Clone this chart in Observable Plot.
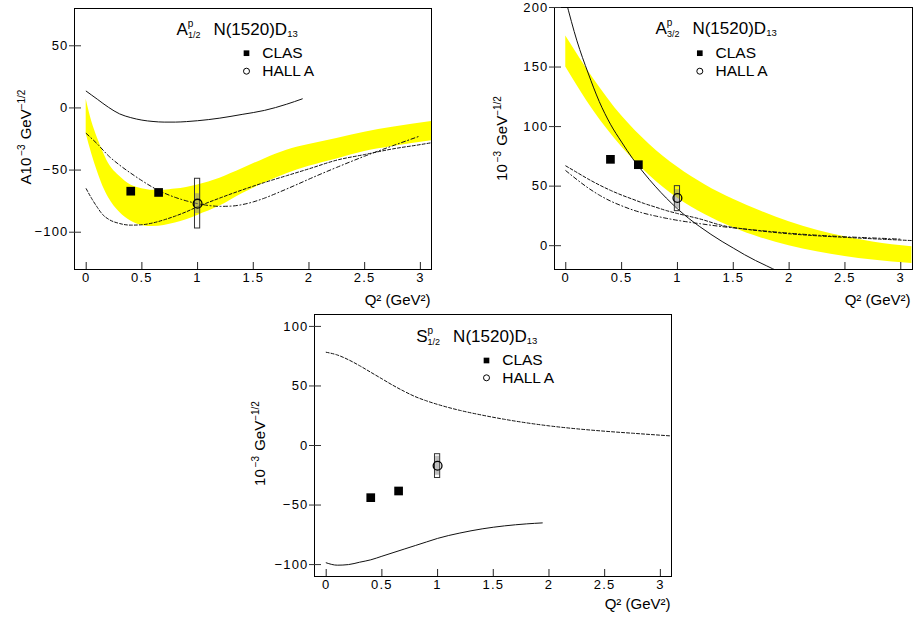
<!DOCTYPE html>
<html><head><meta charset="utf-8">
<script src="https://cdn.jsdelivr.net/npm/d3@7"></script>
<script src="https://cdn.jsdelivr.net/npm/@observablehq/plot@0.6"></script>
<style>
body{margin:0;background:#fff;}
#wrap{position:relative;width:914px;height:621px;font-family:"Liberation Sans",Arial,sans-serif;}
#wrap > div{position:absolute;}
</style></head><body>
<div id="wrap"><div id="p1"></div><div id="p2"></div><div id="p3"></div></div>
<script>
// ---------- ticks ----------
const xTicks = [0, 0.5, 1, 1.5, 2, 2.5, 3];
const yTicksA12 = [-100, -50, 0, 50];
const yTicksA32 = [0, 50, 100, 150, 200];
const yTicksS12 = [-100, -50, 0, 50, 100];

// ---------- data points ----------
const clasQ2 = [0.4, 0.65];
const clasA12 = [-67, -68];
const clasA32 = [72.5, 68];
const clasS12 = [-43.8, -38.2];
const hallQ2 = [1.0];
const hallA12 = [-77], hallA12SysLo = [-97], hallA12SysHi = [-57], hallA12StatLo = [-85], hallA12StatHi = [-69];
const hallA32 = [40], hallA32SysLo = [29], hallA32SysHi = [50], hallA32StatLo = [31], hallA32StatHi = [47];
const hallS12 = [-17], hallS12SysLo = [-27.3], hallS12SysHi = [-7.3], hallS12StatLo = [-25], hallS12StatHi = [-9];

// ---------- A1/2 curves ----------
const bandA12Q = [0, 0.05, 0.1, 0.15, 0.2, 0.3, 0.4, 0.5, 0.6, 0.7, 0.8, 0.9, 1.0, 1.2, 1.4, 1.6, 1.8, 2.0, 2.25, 2.5, 2.75, 3.1];
const bandA12Hi = [7, -11, -24, -35, -44.5, -55, -62, -65, -66.2, -66.2, -65.3, -64, -62, -56.5, -49, -41, -34, -29.5, -24.5, -19.5, -15.5, -11];
const bandA12Lo = [-21, -37, -51, -63, -72, -84, -91, -94.5, -95.5, -94.5, -92.5, -90, -86.5, -79, -69, -60.5, -53, -47, -41, -35, -31, -26.5];
const solidA12Q = [0, 0.1, 0.2, 0.3, 0.4, 0.5, 0.6, 0.7, 0.8, 0.9, 1.0, 1.2, 1.4, 1.6, 1.7, 1.8, 1.94];
const solidA12 = [13.5, 7, 0.5, -4.8, -7.8, -9.8, -10.9, -11.4, -11.4, -11, -10.3, -8.2, -5.2, -2, 0.3, 3, 7.3];
const dashA12Q = [0, 0.05, 0.1, 0.15, 0.2, 0.3, 0.4, 0.5, 0.6, 0.7, 0.8, 0.9, 1.0, 1.2, 1.4, 1.6, 1.8, 2.0, 2.25, 2.5, 2.75, 3.0, 3.1];
const dashA12 = [-65, -73, -80, -86, -89.5, -93, -94.3, -94, -92.5, -90, -87, -83.5, -79.5, -72.5, -66, -60, -54.5, -49, -42, -37.5, -33, -29.5, -28];
const dotdashA12Q = [0, 0.1, 0.2, 0.3, 0.4, 0.5, 0.6, 0.7, 0.8, 0.9, 1.0, 1.1, 1.2, 1.3, 1.4, 1.5, 1.6, 1.7, 1.8, 1.9, 2.0, 2.25, 2.5, 2.75, 3.0];
const dotdashA12 = [-20.5, -29, -38.5, -46, -52.5, -58.5, -64, -68.5, -72, -74.8, -77, -78.5, -79.2, -79, -77.8, -75.6, -72.6, -69, -65.2, -61.3, -57.3, -47.8, -38.8, -30.5, -22.5];

// ---------- A3/2 curves ----------
const bandA32Q = [0, 0.25, 0.5, 0.75, 1.0, 1.25, 1.5, 1.75, 2.0, 2.25, 2.5, 2.75, 3.1];
const bandA32Hi = [176, 140, 109, 85, 66, 51, 39, 29, 20, 13, 7.5, 3, -1];
const bandA32Lo = [150, 113, 83, 59, 40, 26, 15, 6.5, 0, -5, -9, -12, -15];
const solidA32Q = [0, 0.1, 0.2, 0.3, 0.4, 0.5, 0.6, 0.7, 0.8, 0.9, 1.0, 1.1, 1.2, 1.3, 1.4, 1.5, 1.6, 1.7, 1.8, 1.9];
const solidA32 = [206, 172, 145, 121, 102, 87, 73, 61, 50, 40, 31, 23, 16, 9.5, 3.5, -2, -7.5, -12.5, -17, -21.5];
const dashA32Q = [0, 0.1, 0.2, 0.3, 0.4, 0.5, 0.6, 0.7, 0.8, 0.9, 1.0, 1.2, 1.4, 1.6, 1.8, 2.0, 2.25, 2.5, 2.75, 3.1];
const dashA32 = [67, 61.5, 56, 51, 46.5, 42.5, 39, 35.5, 32.5, 29.5, 27, 22.5, 17, 14, 11.8, 10, 8.3, 7, 5.8, 4.3];
const dotdashA32Q = [0, 0.1, 0.2, 0.3, 0.4, 0.5, 0.6, 0.7, 0.8, 0.9, 1.0, 1.2, 1.4, 1.6, 1.8, 2.0, 2.25, 2.5, 2.75, 3.0];
const dotdashA32 = [63, 55.5, 48.5, 42.5, 37.5, 33.5, 30, 27.2, 25, 23, 21.3, 18.5, 16, 14, 12.2, 10.5, 8.8, 7.5, 6.5, 5.5];

// ---------- S1/2 curves ----------
const solidS12Q = [0, 0.1, 0.2, 0.3, 0.4, 0.5, 0.6, 0.7, 0.8, 0.9, 1.0, 1.2, 1.4, 1.6, 1.8, 1.94];
const solidS12 = [-98.5, -100.5, -100, -98, -96, -93, -90, -87, -84, -81, -78, -73.5, -70, -67.5, -65.8, -65];
const dashS12Q = [0, 0.1, 0.2, 0.3, 0.4, 0.5, 0.6, 0.7, 0.8, 0.9, 1.0, 1.2, 1.4, 1.6, 1.8, 2.0, 2.25, 2.5, 2.75, 3.1];
const dashS12 = [78.3, 76, 72, 67, 61.5, 56, 50.5, 45.5, 41, 37.5, 34.5, 29.5, 25.5, 22, 19, 16.5, 14, 12, 10.3, 8];

// ---------- texts ----------
const xLabel = "Q² (GeV²)";
const legendClas = "CLAS";
const legendHall = "HALL A";

const fmtX = d => String(d);
const fmtY = d => d < 0 ? "\u2212" + Math.abs(d) : String(d);
const pts = (q, v) => q.map((x, i) => ({x, y: v[i]}));

function rich(svg, plain, parts) {
  const t = d3.select(svg).selectAll("text").filter(function () { return this.textContent === plain; });
  if (t.empty()) return;
  t.selectAll("*").remove();
  t.text(null);
  let cur = 0;
  for (const p of parts) {
    const off = p.off || 0;
    const ts = t.append("tspan").text(p.t).attr("dy", off - cur);
    if (p.size) ts.attr("font-size", p.size);
    if (p.dx) ts.attr("dx", p.dx);
    cur = off;
  }
}

function panel(cfg) {
  const plotW = cfg.width - cfg.m[1] - cfg.m[3];
  const plotH = cfg.height - cfg.m[0] - cfg.m[2];
  const marks = [];
  if (cfg.band) {
    marks.push(Plot.areaY(cfg.band.q.map((x, i) => ({x, lo: cfg.band.lo[i], hi: cfg.band.hi[i]})),
      {x: "x", y1: "lo", y2: "hi", fill: "#ffff00", curve: "monotone-x", clip: true}));
  }
  for (const c of cfg.curves) {
    marks.push(Plot.line(pts(c.q, c.v), {x: "x", y: "y", curve: "monotone-x", stroke: "#111", strokeWidth: 1,
      strokeDasharray: c.dash, clip: true}));
  }
  const h = cfg.hall;
  const hd = hallQ2.map((x, i) => ({x, y: h.y[i], slo: h.sysLo[i], shi: h.sysHi[i], tlo: h.statLo[i], thi: h.statHi[i]}));
  marks.push(Plot.rect(hd, {x1: "x", x2: "x", y1: "tlo", y2: "thi", insetLeft: -2, insetRight: -2, fill: "#8a8a8a", fillOpacity: 0.55}));
  marks.push(Plot.rect(hd, {x1: "x", x2: "x", y1: "slo", y2: "shi", insetLeft: -2.6, insetRight: -2.6, fill: "none", stroke: "#333", strokeWidth: 1}));
  marks.push(Plot.dot(pts(clasQ2, cfg.clas), {x: "x", y: "y", symbol: "square", r: 4.9, fill: "black"}));
  marks.push(Plot.dot(hd, {x: "x", y: "y", r: 4.4, fill: "none", stroke: "black", strokeWidth: 1.3}));
  marks.push(Plot.frame({stroke: "black", strokeWidth: 1}));
  // inward ticks
  marks.push(Plot.tickX(xTicks, {x: d => d, insetTop: plotH - 7, stroke: "#222"}));
  marks.push(Plot.tickY(cfg.yTicks, {y: d => d, insetRight: plotW - 7, stroke: "#333"}));
  marks.push(Plot.axisX(xTicks, {anchor: "bottom", tickSize: 0, tickPadding: 3, tickFormat: fmtX, label: null, fontSize: 13}));
  marks.push(Plot.axisY(cfg.yTicks, {anchor: "left", tickSize: 5, tickPadding: 1, tickFormat: fmtY, label: null, fontSize: 13, stroke: "#333"}));
  // title
  marks.push(Plot.text([cfg.titlePlain], {text: d => d, frameAnchor: "top-left", dx: cfg.titleDx, dy: cfg.titleDy,
    textAnchor: "start", lineAnchor: "middle", fontSize: 17, fill: "black"}));
  // legend
  const L = cfg.legend;
  marks.push(Plot.dot([legendClas], {frameAnchor: "top-left", dx: L.mx, dy: L.sqy, symbol: "square", r: 3.2, fill: "black"}));
  marks.push(Plot.dot([legendHall], {frameAnchor: "top-left", dx: L.mx, dy: L.cy, r: 3, fill: "none", stroke: "black", strokeWidth: 1}));
  marks.push(Plot.text([legendClas], {text: d => d, frameAnchor: "top-left", dx: L.tx, dy: L.sqy, textAnchor: "start", lineAnchor: "middle", fontSize: 15.5, fill: "black"}));
  marks.push(Plot.text([legendHall], {text: d => d, frameAnchor: "top-left", dx: L.tx, dy: L.cy, textAnchor: "start", lineAnchor: "middle", fontSize: 15.5, fill: "black"}));
  // axis titles
  marks.push(Plot.text([xLabel], {text: d => d, frameAnchor: "bottom-right", dx: cfg.xlab[0], dy: cfg.xlab[1], textAnchor: "end", lineAnchor: "middle", fontSize: 15, fill: "black"}));
  marks.push(Plot.text([cfg.ylabPlain], {text: d => d, frameAnchor: "left", dx: cfg.ylab[0], dy: cfg.ylab[1], rotate: -90, textAnchor: "middle", lineAnchor: "middle", fontSize: 15, fill: "black"}));

  const svg = Plot.plot({
    width: cfg.width, height: cfg.height,
    marginTop: cfg.m[0], marginRight: cfg.m[1], marginBottom: cfg.m[2], marginLeft: cfg.m[3],
    x: {domain: cfg.xDomain, label: null},
    y: {domain: cfg.yDomain, label: null},
    style: {background: "none", overflow: "visible", fontFamily: '"Liberation Sans", Arial, sans-serif', fontSize: "13px", color: "black"},
    marks
  });
  // wider tick-label spacing like the original
  d3.select(svg).selectAll('g[aria-label="x-axis tick label"] text, g[aria-label="y-axis tick label"] text')
    .style("letter-spacing", "1.2px");
  rich(svg, cfg.titlePlain, cfg.titleParts);
  rich(svg, cfg.ylabPlain, cfg.ylabParts);
  const el = document.getElementById(cfg.id);
  el.style.left = cfg.left + "px"; el.style.top = cfg.top + "px";
  el.style.width = cfg.width + "px"; el.style.height = cfg.height + "px";
  el.appendChild(svg);
}

const dashed = "3,2";
const dotdash = "4,2.5,1,2.5";

const titleTail = (sub) => [
  {t: "p", size: 10, off: -7.5},
  {t: sub, size: 9, off: 3.5, dx: -5.5},
  {t: "N(1520)D", off: 0, dx: 13},
  {t: "13", size: 9.5, off: 2}
];
const ylabTail = [
  {t: "\u22123", size: 10, off: -6, dx: 2},
  {t: "GeV", off: 0, dx: 5},
  {t: "\u22121/2", size: 10, off: -6}
];

panel({
  id: "p1", left: 0, top: 0, width: 460, height: 310, m: [8, 29, 41, 74],
  xDomain: [-0.105, 3.1], yDomain: [-130, 80], yTicks: yTicksA12,
  band: {q: bandA12Q, lo: bandA12Lo, hi: bandA12Hi},
  curves: [
    {q: solidA12Q, v: solidA12, dash: null},
    {q: dashA12Q, v: dashA12, dash: dashed},
    {q: dotdashA12Q, v: dotdashA12, dash: dotdash}
  ],
  clas: clasA12,
  hall: {y: hallA12, sysLo: hallA12SysLo, sysHi: hallA12SysHi, statLo: hallA12StatLo, statHi: hallA12StatHi},
  titlePlain: "Ap1/2 N(1520)D13", titleParts: [{t: "A"}, ...titleTail("1/2")], titleDx: 102, titleDy: 21,
  legend: {mx: 172, sqy: 44.7, cy: 62.7, tx: 187.7},
  xlab: [-1, 31], ylab: [-48, -2],
  ylabPlain: "A10\u22123 GeV\u22121/2", ylabParts: [{t: "A10"}, ...ylabTail]
});

panel({
  id: "p2", left: 460, top: 0, width: 454, height: 310, m: [7, 2, 41, 94],
  xDomain: [-0.101, 3.105], yDomain: [-20, 200], yTicks: yTicksA32,
  band: {q: bandA32Q, lo: bandA32Lo, hi: bandA32Hi},
  curves: [
    {q: solidA32Q, v: solidA32, dash: null},
    {q: dashA32Q, v: dashA32, dash: dashed},
    {q: dotdashA32Q, v: dotdashA32, dash: dotdash}
  ],
  clas: clasA32,
  hall: {y: hallA32, sysLo: hallA32SysLo, sysHi: hallA32SysHi, statLo: hallA32StatLo, statHi: hallA32StatHi},
  titlePlain: "Ap3/2 N(1520)D13", titleParts: [{t: "A"}, ...titleTail("3/2")], titleDx: 101, titleDy: 21,
  legend: {mx: 145.3, sqy: 45.7, cy: 63.7, tx: 161},
  xlab: [-2, 31], ylab: [-52, 0],
  ylabPlain: "10\u22123 GeV\u22121/2", ylabParts: [{t: "10"}, ...ylabTail]
});

panel({
  id: "p3", left: 240, top: 305, width: 440, height: 316, m: [9, 9, 45, 74],
  xDomain: [-0.105, 3.1], yDomain: [-110, 110], yTicks: yTicksS12,
  band: null,
  curves: [
    {q: solidS12Q, v: solidS12, dash: null},
    {q: dashS12Q, v: dashS12, dash: dashed}
  ],
  clas: clasS12,
  hall: {y: hallS12, sysLo: hallS12SysLo, sysHi: hallS12SysHi, statLo: hallS12StatLo, statHi: hallS12StatHi},
  titlePlain: "Sp1/2 N(1520)D13", titleParts: [{t: "S"}, ...titleTail("1/2")], titleDx: 101.7, titleDy: 22,
  legend: {mx: 172, sqy: 46, cy: 63.3, tx: 187.7},
  xlab: [-1, 28], ylab: [-54, -2],
  ylabPlain: "10\u22123 GeV\u22121/2", ylabParts: [{t: "10"}, ...ylabTail]
});
</script>
</body></html>
